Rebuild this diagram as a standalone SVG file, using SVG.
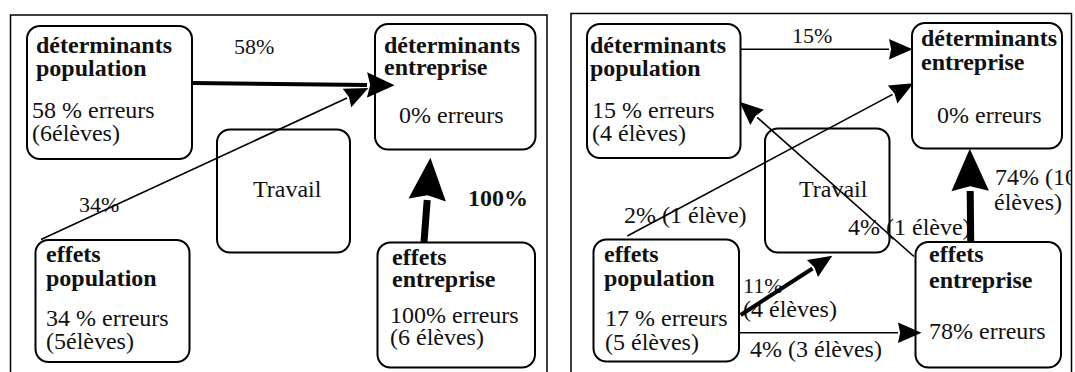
<svg xmlns="http://www.w3.org/2000/svg" width="1075" height="372" viewBox="0 0 1075 372">
<style>
  .frame{fill:none;stroke:#000;stroke-width:1.5}
  .node{fill:#fff;stroke:#000;stroke-width:2}
  .b{font-weight:bold}
  .sm{font-size:22px}
  .thin{fill:none;stroke:#000;stroke-width:1.6}
  .med{fill:none;stroke:#000;stroke-width:4}
  .thick{fill:none;stroke:#000;stroke-width:7}
  .head{fill:#000;stroke:none}
</style>
<defs>
  <marker id="hs" markerUnits="userSpaceOnUse" markerWidth="30" markerHeight="30" viewBox="-2 -12 28 24" refX="0" refY="0" orient="auto" overflow="visible">
    <path d="M0,-9.5 L22,0 L0,9.5 L2,0 Z" class="head"/>
  </marker>
  <marker id="hm" markerUnits="userSpaceOnUse" markerWidth="34" markerHeight="30" viewBox="-2 -14 32 28" refX="0" refY="0" orient="auto" overflow="visible">
    <path d="M0,-12 L26,0 L0,12 L3,0 Z" class="head"/>
  </marker>
  <marker id="hl" markerUnits="userSpaceOnUse" markerWidth="50" markerHeight="46" viewBox="-4 -22 52 44" refX="0" refY="0" orient="auto" overflow="visible">
    <path d="M0,-19.5 L44,0 L0,19.5 L5,0 Z" class="head"/>
  </marker>
  <clipPath id="rclip"><rect x="571" y="0" width="500" height="372"/></clipPath>
</defs>

<g id="frames">
  <rect class="frame" x="10.5" y="15" width="536.5" height="370"/>
  <rect class="frame" x="571" y="13.5" width="500.5" height="370"/>
</g>

<g id="diagram" font-family="Liberation Serif, Times New Roman, serif" font-size="24" fill="#111">
<!-- Left panel nodes -->
<g id="L-det-pop">
  <rect class="node" x="27" y="26" width="165" height="133" rx="13"/>
  <text class="b" x="36" y="53">déterminants</text>
  <text class="b" x="36" y="76">population</text>
  <text x="32" y="118">58 % erreurs</text>
  <text x="32" y="141">(6élèves)</text>
</g>
<g id="L-det-ent">
  <rect class="node" x="375" y="24" width="160.5" height="125.5" rx="13"/>
  <text class="b" x="384" y="53">déterminants</text>
  <text class="b" x="384" y="75">entreprise</text>
  <text x="399" y="123">0% erreurs</text>
</g>
<g id="L-travail">
  <rect class="node" x="217" y="129.5" width="133" height="123" rx="13"/>
  <text x="253" y="197">Travail</text>
</g>
<g id="L-eff-pop">
  <rect class="node" x="35.5" y="240" width="154" height="122" rx="13"/>
  <text class="b" x="46" y="262">effets</text>
  <text class="b" x="46" y="286">population</text>
  <text x="46" y="326">34 % erreurs</text>
  <text x="46" y="349">(5élèves)</text>
</g>
<g id="L-eff-ent">
  <rect class="node" x="377.5" y="242.5" width="157.5" height="125" rx="13"/>
  <text class="b" x="392" y="265">effets</text>
  <text class="b" x="392" y="287">entreprise</text>
  <text x="390" y="323">100% erreurs</text>
  <text x="390" y="345">(6 élèves)</text>
</g>

<!-- Right panel nodes -->
<g id="R-det-pop">
  <rect class="node" x="587" y="24" width="153.5" height="134" rx="13"/>
  <text class="b" x="590" y="53">déterminants</text>
  <text class="b" x="590" y="76">population</text>
  <text x="592" y="118">15 % erreurs</text>
  <text x="592" y="141">(4 élèves)</text>
</g>
<g id="R-det-ent">
  <rect class="node" x="912" y="23" width="150" height="125.5" rx="13"/>
  <text class="b" x="921" y="46">déterminants</text>
  <text class="b" x="921" y="70">entreprise</text>
  <text x="937" y="123">0% erreurs</text>
</g>
<g id="R-travail">
  <rect class="node" x="765" y="128.5" width="124.5" height="124" rx="13"/>
  <text x="799" y="197">Travail</text>
</g>
<g id="R-eff-pop">
  <rect class="node" x="593.5" y="239.5" width="145.5" height="122" rx="13"/>
  <text class="b" x="604" y="262">effets</text>
  <text class="b" x="604" y="286">population</text>
  <text x="605" y="326">17 % erreurs</text>
  <text x="605" y="350">(5 élèves)</text>
</g>
<g id="R-eff-ent">
  <rect class="node" x="915.5" y="242" width="145.5" height="125.5" rx="13"/>
  <text class="b" x="929" y="262">effets</text>
  <text class="b" x="929" y="288">entreprise</text>
  <text x="929" y="339">78% erreurs</text>
</g>

<g id="connector-labels">
  <text class="sm" x="234" y="54">58%</text>
  <text class="sm" x="79" y="212">34%</text>
  <text class="b" x="468" y="206">100%</text>
  <text class="sm" x="792" y="43">15%</text>
  <text x="624" y="223">2% (1 élève)</text>
  <text x="848" y="235">4% (1 élève)</text>
  <text class="sm" x="743" y="293">11%</text>
  <text x="743" y="317">(4 élèves)</text>
  <text x="750" y="357">4% (3 élèves)</text>
  <g clip-path="url(#rclip)">
    <text x="995" y="185">74% (10</text>
    <text x="994" y="210">élèves)</text>
  </g>
</g>
</g>

<g id="connectors">
  <!-- left -->
  <path class="med" d="M192,83 L367,85" marker-end="url(#hm)"/>
  <path class="thin" d="M41,239.5 L347,98" marker-end="url(#hs)"/>
  <path class="thick" d="M424,242 L427.2,200" marker-end="url(#hl)"/>
  <!-- right -->
  <path class="thin" d="M740.6,49.3 L889,49.3" marker-end="url(#hs)"/>
  <path class="thin" d="M627.3,236 L892.6,94.4" marker-end="url(#hs)"/>
  <path class="thin" d="M914,256.5 L757.1,117.3" marker-end="url(#hs)"/>
  <path class="med" d="M740.7,315 L812.5,268.5" marker-end="url(#hs)"/>
  <path class="thin" d="M739,332.7 L898,332.7" marker-end="url(#hs)"/>
  <path class="thick" d="M970.7,243 L970.2,191" marker-end="url(#hl)"/>
</g>
</svg>
